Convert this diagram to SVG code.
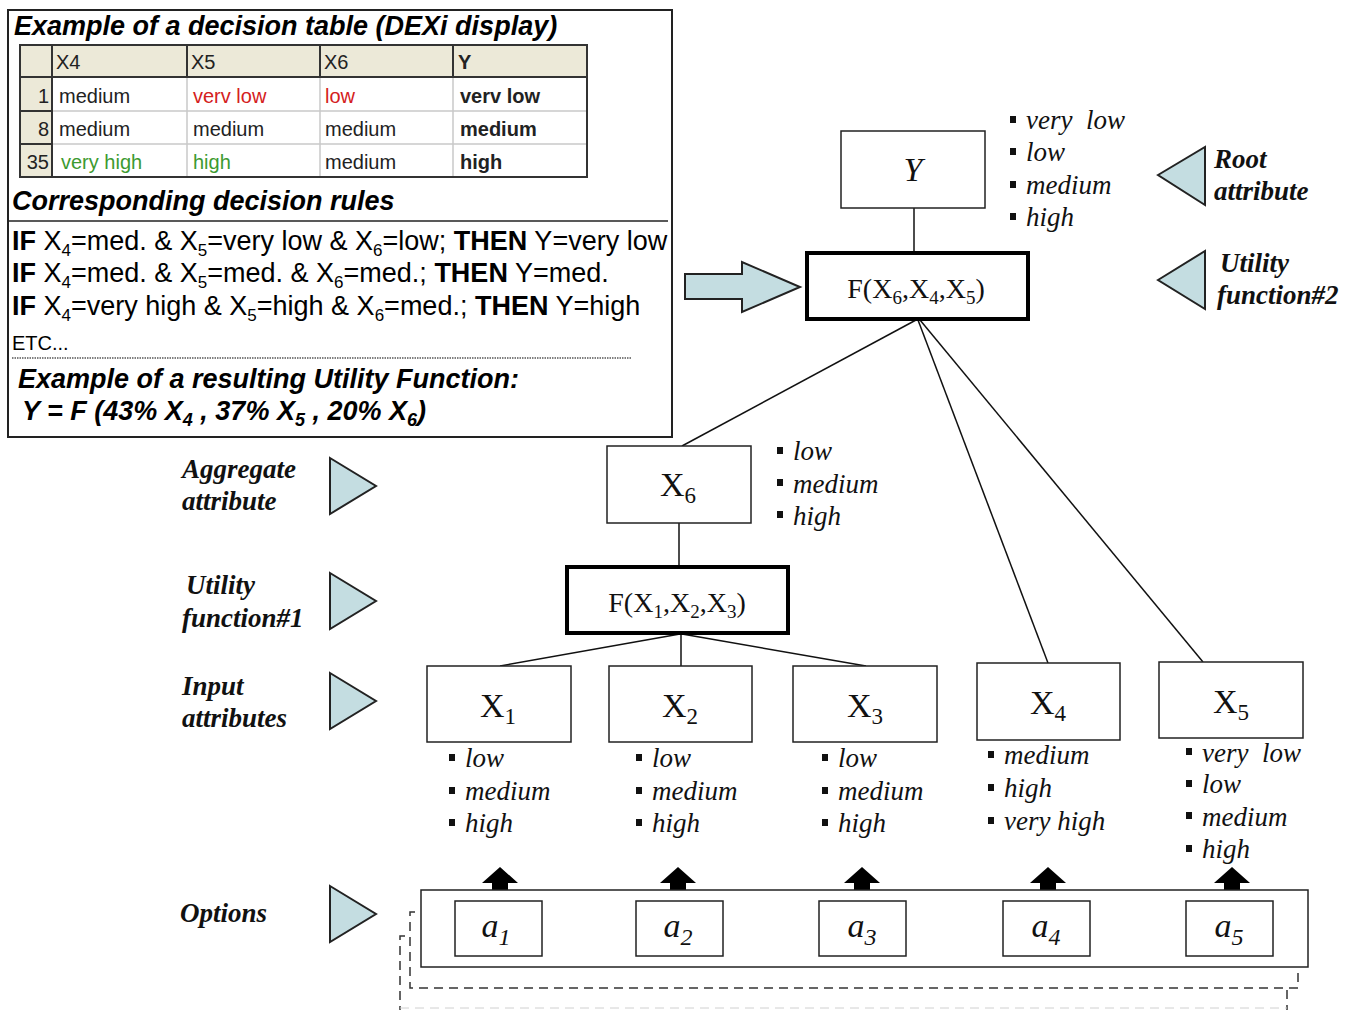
<svg xmlns="http://www.w3.org/2000/svg" width="1354" height="1010" viewBox="0 0 1354 1010">
<style>
.box{fill:#fff;stroke:#222;stroke-width:1.5}
.thick{fill:#fff;stroke:#000;stroke-width:4}
.tri{fill:#c4dde1;stroke:#222;stroke-width:2}
.node{font-family:"Liberation Serif","Times New Roman",serif;font-size:34px;fill:#111}
.fn{font-family:"Liberation Serif","Times New Roman",serif;font-size:28px;fill:#111}
.lst{font-family:"Liberation Serif","Times New Roman",serif;font-size:27px;font-style:italic;fill:#111}
.lab{font-family:"Liberation Serif","Times New Roman",serif;font-size:27px;font-style:italic;font-weight:bold;fill:#111}
.tb{font-family:"Liberation Sans",Arial,sans-serif;font-size:20px;fill:#222}
.red{fill:#d42020}
.grn{fill:#3c9a30}
.sans{font-family:"Liberation Sans",Arial,sans-serif;fill:#000}
.conn{stroke:#111;stroke-width:1.5;fill:none}
.dash{stroke:#333;stroke-width:1.5;fill:none;stroke-dasharray:9 6}
.up{fill:#000}
</style>

<!-- Top-left panel -->
<g id="decision-panel">
  <rect x="8" y="10" width="664" height="427" fill="#fff" stroke="#222" stroke-width="2"/>
  <text class="sans" x="14" y="35" font-size="27" font-weight="bold" font-style="italic">Example of a decision table (DEXi display)</text>
  <g id="table">
    <rect x="20" y="45" width="567" height="132" fill="#fff"/>
    <rect x="20" y="45" width="567" height="32" fill="#ece9d8"/>
    <rect x="20" y="77" width="32" height="100" fill="#ece9d8"/>
    <g stroke="#c8c8c8" stroke-width="1.5">
      <line x1="52" y1="111" x2="587" y2="111"/>
      <line x1="52" y1="144" x2="587" y2="144"/>
      <line x1="187" y1="77" x2="187" y2="177"/>
      <line x1="320" y1="77" x2="320" y2="177"/>
      <line x1="453" y1="77" x2="453" y2="177"/>
    </g>
    <g stroke="#333" stroke-width="2">
      <line x1="20" y1="77" x2="587" y2="77"/>
      <line x1="52" y1="45" x2="52" y2="177"/>
      <line x1="187" y1="45" x2="187" y2="77"/>
      <line x1="320" y1="45" x2="320" y2="77"/>
      <line x1="453" y1="45" x2="453" y2="77"/>
      <line x1="20" y1="111" x2="52" y2="111"/>
      <line x1="20" y1="144" x2="52" y2="144"/>
    </g>
    <rect x="20" y="45" width="567" height="132" fill="none" stroke="#333" stroke-width="2"/>
    <text class="tb" x="56" y="69">X4</text>
    <text class="tb" x="191" y="69">X5</text>
    <text class="tb" x="324" y="69">X6</text>
    <text class="tb" x="458" y="69" font-weight="bold">Y</text>
    <text class="tb" x="49" y="103" text-anchor="end">1</text>
    <text class="tb" x="49" y="136" text-anchor="end">8</text>
    <text class="tb" x="49" y="169" text-anchor="end">35</text>
    <text class="tb" x="59" y="103">medium</text>
    <text class="tb red" x="193" y="103">verv low</text>
    <text class="tb red" x="325" y="103">low</text>
    <text class="tb" x="460" y="103" font-weight="bold">verv low</text>
    <text class="tb" x="59" y="136">medium</text>
    <text class="tb" x="193" y="136">medium</text>
    <text class="tb" x="325" y="136">medium</text>
    <text class="tb" x="460" y="136" font-weight="bold">medium</text>
    <text class="tb grn" x="61" y="169">very high</text>
    <text class="tb grn" x="193" y="169">high</text>
    <text class="tb" x="325" y="169">medium</text>
    <text class="tb" x="460" y="169" font-weight="bold">high</text>
  </g>
  <text class="sans" x="12" y="210" font-size="27" font-weight="bold" font-style="italic">Corresponding decision rules</text>
  <line x1="8" y1="221" x2="668" y2="221" stroke="#222" stroke-width="1.5"/>
  <text class="sans" x="12" y="250" font-size="27"><tspan font-weight="bold">IF</tspan> X<tspan font-size="17" dy="6">4</tspan><tspan dy="-6">=med. &amp; X</tspan><tspan font-size="17" dy="6">5</tspan><tspan dy="-6">=very low &amp; X</tspan><tspan font-size="17" dy="6">6</tspan><tspan dy="-6">=low; </tspan><tspan font-weight="bold">THEN</tspan> Y=very low</text>
  <text class="sans" x="12" y="282" font-size="27"><tspan font-weight="bold">IF</tspan> X<tspan font-size="17" dy="6">4</tspan><tspan dy="-6">=med. &amp; X</tspan><tspan font-size="17" dy="6">5</tspan><tspan dy="-6">=med. &amp; X</tspan><tspan font-size="17" dy="6">6</tspan><tspan dy="-6">=med.; </tspan><tspan font-weight="bold">THEN</tspan> Y=med.</text>
  <text class="sans" x="12" y="315" font-size="27"><tspan font-weight="bold">IF</tspan> X<tspan font-size="17" dy="6">4</tspan><tspan dy="-6">=very high &amp; X</tspan><tspan font-size="17" dy="6">5</tspan><tspan dy="-6">=high &amp; X</tspan><tspan font-size="17" dy="6">6</tspan><tspan dy="-6">=med.; </tspan><tspan font-weight="bold">THEN</tspan> Y=high</text>
  <text class="sans" x="12" y="350" font-size="20">ETC...</text>
  <line x1="12" y1="358" x2="632" y2="358" stroke="#555" stroke-width="1.5" stroke-dasharray="1.5 1"/>
  <text class="sans" x="18" y="388" font-size="27" font-weight="bold" font-style="italic">Example of a resulting Utility Function:</text>
  <text class="sans" x="22" y="420" font-size="27" font-weight="bold" font-style="italic">Y = F (43% X<tspan font-size="18" dy="6">4</tspan><tspan dy="-6"> , 37% X</tspan><tspan font-size="18" dy="6">5</tspan><tspan dy="-6"> , 20% X</tspan><tspan font-size="18" dy="6">6</tspan><tspan dy="-6">)</tspan></text>
</g>

<!-- Connectors -->
<g id="connectors">
  <line class="conn" x1="914" y1="208" x2="914" y2="253"/>
  <line class="conn" x1="916" y1="320" x2="682" y2="446"/>
  <line class="conn" x1="918" y1="320" x2="1048" y2="663"/>
  <line class="conn" x1="920" y1="320" x2="1203" y2="662"/>
  <line class="conn" x1="679" y1="523" x2="679" y2="567"/>
  <line class="conn" x1="680" y1="634" x2="500" y2="666"/>
  <line class="conn" x1="681" y1="634" x2="681" y2="666"/>
  <line class="conn" x1="682" y1="634" x2="866" y2="666"/>
  <polygon class="tri" points="685,274 742,274 742,262 800,287 742,312 742,299 685,299"/>
  <g class="up">
    <polygon points="492,901 492,883 482,883 500,867 518,883 508,883 508,901"/>
    <polygon points="670,901 670,883 660,883 678,867 696,883 686,883 686,901"/>
    <polygon points="854,901 854,883 844,883 862,867 880,883 870,883 870,901"/>
    <polygon points="1040,901 1040,883 1030,883 1048,867 1066,883 1056,883 1056,901"/>
    <polygon points="1224,901 1224,883 1214,883 1232,867 1250,883 1240,883 1240,901"/>
  </g>
  <polyline class="dash" points="415,912 410,912 410,988 1298,988 1298,968"/>
  <polyline class="dash" points="405,936 400,936 400,1012"/>
  <line class="dash" x1="1287" y1="990" x2="1287" y2="1012"/>
  <line x1="400" y1="1008" x2="1287" y2="1008" stroke="#d0d0d0" stroke-width="1" stroke-dasharray="9 6"/>
</g>

<!-- Root Y -->
<g id="node-Y">
  <rect class="box" x="841" y="131" width="144" height="77"/>
  <text class="node" x="913" y="181" text-anchor="middle" font-style="italic">Y</text>
  <g class="lst">
    <rect x="1010" y="116" width="6" height="7"/><text x="1026" y="129">very&#160; low</text>
    <rect x="1010" y="148" width="6" height="7"/><text x="1026" y="161">low</text>
    <rect x="1010" y="181" width="6" height="7"/><text x="1026" y="194">medium</text>
    <rect x="1010" y="213" width="6" height="7"/><text x="1026" y="226">high</text>
  </g>
</g>

<g id="node-F2">
  <rect class="thick" x="807" y="253" width="221" height="66"/>
  <text class="fn" x="916" y="298" text-anchor="middle">F(X<tspan font-size="19" dy="6">6</tspan><tspan dy="-6">,X</tspan><tspan font-size="19" dy="6">4</tspan><tspan dy="-6">,X</tspan><tspan font-size="19" dy="6">5</tspan><tspan dy="-6">)</tspan></text>
</g>

<g id="label-root">
  <polygon class="tri" points="1158,175 1205,147 1205,205"/>
  <text class="lab" x="1214" y="168">Root</text>
  <text class="lab" x="1214" y="200">attribute</text>
</g>
<g id="label-uf2">
  <polygon class="tri" points="1158,280 1205,251 1205,309"/>
  <text class="lab" x="1220" y="272">Utility</text>
  <text class="lab" x="1217" y="304">function#2</text>
</g>

<g id="node-X6">
  <rect class="box" x="607" y="446" width="144" height="77"/>
  <text class="node" x="678" y="496" text-anchor="middle">X<tspan font-size="23" dy="7">6</tspan></text>
  <g class="lst">
    <rect x="777" y="447" width="6" height="7"/><text x="793" y="460">low</text>
    <rect x="777" y="479" width="6" height="7"/><text x="793" y="493">medium</text>
    <rect x="777" y="511" width="6" height="7"/><text x="793" y="525">high</text>
  </g>
</g>

<g id="node-F1">
  <rect class="thick" x="567" y="567" width="221" height="66"/>
  <text class="fn" x="677" y="612" text-anchor="middle">F(X<tspan font-size="19" dy="6">1</tspan><tspan dy="-6">,X</tspan><tspan font-size="19" dy="6">2</tspan><tspan dy="-6">,X</tspan><tspan font-size="19" dy="6">3</tspan><tspan dy="-6">)</tspan></text>
</g>

<g id="node-X1">
  <rect class="box" x="427" y="666" width="144" height="76"/>
  <text class="node" x="498" y="717" text-anchor="middle">X<tspan font-size="23" dy="7">1</tspan></text>
  <g class="lst">
    <rect x="449" y="754" width="6" height="7"/><text x="465" y="767">low</text>
    <rect x="449" y="787" width="6" height="7"/><text x="465" y="800">medium</text>
    <rect x="449" y="819" width="6" height="7"/><text x="465" y="832">high</text>
  </g>
</g>
<g id="node-X2">
  <rect class="box" x="609" y="666" width="143" height="76"/>
  <text class="node" x="680" y="717" text-anchor="middle">X<tspan font-size="23" dy="7">2</tspan></text>
  <g class="lst">
    <rect x="636" y="754" width="6" height="7"/><text x="652" y="767">low</text>
    <rect x="636" y="787" width="6" height="7"/><text x="652" y="800">medium</text>
    <rect x="636" y="819" width="6" height="7"/><text x="652" y="832">high</text>
  </g>
</g>
<g id="node-X3">
  <rect class="box" x="793" y="666" width="144" height="76"/>
  <text class="node" x="865" y="717" text-anchor="middle">X<tspan font-size="23" dy="7">3</tspan></text>
  <g class="lst">
    <rect x="822" y="754" width="6" height="7"/><text x="838" y="767">low</text>
    <rect x="822" y="787" width="6" height="7"/><text x="838" y="800">medium</text>
    <rect x="822" y="819" width="6" height="7"/><text x="838" y="832">high</text>
  </g>
</g>
<g id="node-X4">
  <rect class="box" x="977" y="663" width="143" height="77"/>
  <text class="node" x="1048" y="714" text-anchor="middle">X<tspan font-size="23" dy="7">4</tspan></text>
  <g class="lst">
    <rect x="988" y="751" width="6" height="7"/><text x="1004" y="764">medium</text>
    <rect x="988" y="784" width="6" height="7"/><text x="1004" y="797">high</text>
    <rect x="988" y="817" width="6" height="7"/><text x="1004" y="830">very high</text>
  </g>
</g>
<g id="node-X5">
  <rect class="box" x="1159" y="662" width="144" height="76"/>
  <text class="node" x="1231" y="713" text-anchor="middle">X<tspan font-size="23" dy="7">5</tspan></text>
  <g class="lst">
    <rect x="1186" y="748" width="6" height="7"/><text x="1202" y="762">very&#160; low</text>
    <rect x="1186" y="780" width="6" height="7"/><text x="1202" y="793">low</text>
    <rect x="1186" y="812" width="6" height="7"/><text x="1202" y="826">medium</text>
    <rect x="1186" y="845" width="6" height="7"/><text x="1202" y="858">high</text>
  </g>
</g>

<g id="label-aggregate">
  <text class="lab" x="182" y="478">Aggregate</text>
  <text class="lab" x="182" y="510">attribute</text>
  <polygon class="tri" points="330,458 376,486 330,514"/>
</g>
<g id="label-uf1">
  <text class="lab" x="186" y="594">Utility</text>
  <text class="lab" x="182" y="627">function#1</text>
  <polygon class="tri" points="330,573 376,601 330,629"/>
</g>
<g id="label-input">
  <text class="lab" x="182" y="695">Input</text>
  <text class="lab" x="182" y="727">attributes</text>
  <polygon class="tri" points="330,673 376,701 330,729"/>
</g>
<g id="label-options">
  <text class="lab" x="180" y="922">Options</text>
  <polygon class="tri" points="330,886 376,914 330,942"/>
</g>

<g id="options">
  <rect class="box" x="421" y="890" width="887" height="77"/>
  <g id="opt-a1"><rect class="box" x="455" y="901" width="87" height="55"/><text class="node" x="496" y="937" text-anchor="middle" font-style="italic" font-size="36">a<tspan font-size="24" dy="8">1</tspan></text></g>
  <g id="opt-a2"><rect class="box" x="636" y="901" width="87" height="55"/><text class="node" x="678" y="937" text-anchor="middle" font-style="italic" font-size="36">a<tspan font-size="24" dy="8">2</tspan></text></g>
  <g id="opt-a3"><rect class="box" x="819" y="901" width="87" height="55"/><text class="node" x="862" y="937" text-anchor="middle" font-style="italic" font-size="36">a<tspan font-size="24" dy="8">3</tspan></text></g>
  <g id="opt-a4"><rect class="box" x="1003" y="901" width="87" height="55"/><text class="node" x="1046" y="937" text-anchor="middle" font-style="italic" font-size="36">a<tspan font-size="24" dy="8">4</tspan></text></g>
  <g id="opt-a5"><rect class="box" x="1186" y="901" width="87" height="55"/><text class="node" x="1229" y="937" text-anchor="middle" font-style="italic" font-size="36">a<tspan font-size="24" dy="8">5</tspan></text></g>
</g>
</svg>
